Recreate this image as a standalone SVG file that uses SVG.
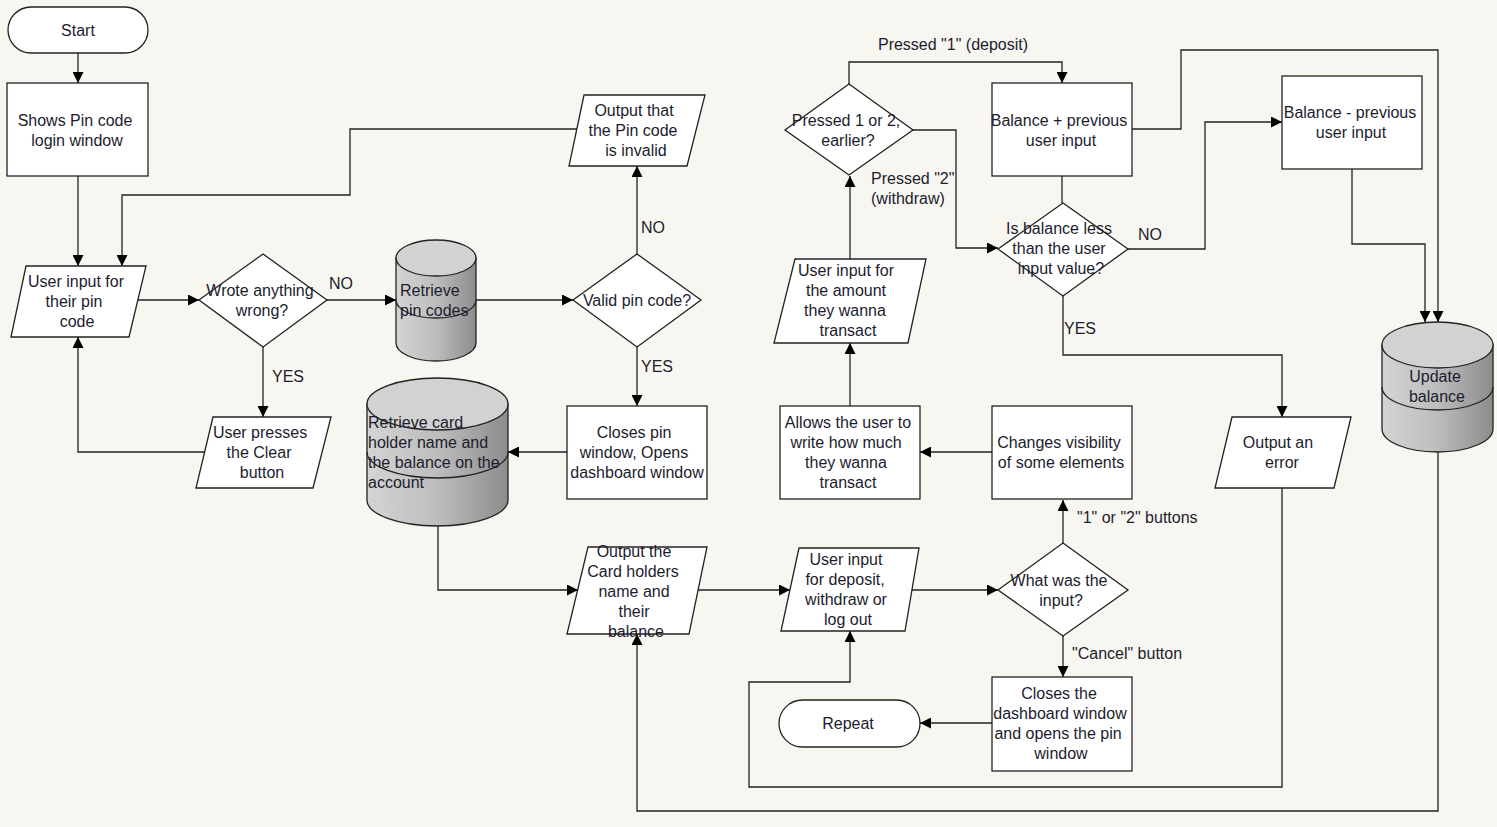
<svg xmlns="http://www.w3.org/2000/svg" width="1497" height="827" viewBox="0 0 1497 827">
<style>
text{font-family:"Liberation Sans",Arial,sans-serif;font-size:16px;fill:#1c1c2e}
.c{text-anchor:middle}
.s{fill:#fff;stroke:#222;stroke-width:1.3}
.cyl{fill:url(#g);stroke:#222;stroke-width:1.3}
.top{fill:#d2d2d2;stroke:#222;stroke-width:1.3}
.arc{fill:none;stroke:#222;stroke-width:1.3}
#connectors path{fill:none;stroke:#222;stroke-width:1.3}
#connectors .a{marker-end:url(#ah)}
</style>
<defs>
<linearGradient id="g" x1="0" y1="0" x2="1" y2="0">
<stop offset="0" stop-color="#d4d4d4"/>
<stop offset="0.5" stop-color="#bdbdbd"/>
<stop offset="1" stop-color="#8c8c8c"/>
</linearGradient>
<marker id="ah" viewBox="0 0 10 10" refX="10" refY="5" markerWidth="11" markerHeight="11" markerUnits="userSpaceOnUse" orient="auto">
<path d="M0,0 L10,5 L0,10 z" fill="#000"/>
</marker>
</defs>
<rect width="1497" height="827" fill="#f8f6f0"/>

<g id="connectors">
<path class="a" d="M78,53 V83"/>
<path class="a" d="M78,176 V266"/>
<path class="a" d="M577,129 H350 V195 H122 V266"/>
<path class="a" d="M138,300 H199"/>
<path class="a" d="M327,300 H396"/>
<path class="a" d="M476,300 H573"/>
<path class="a" d="M637,254 V166"/>
<path class="a" d="M637,347 V406"/>
<path class="a" d="M567,452 H508"/>
<path class="a" d="M263,347 V417"/>
<path class="a" d="M205,452 H78 V337"/>
<path class="a" d="M438,526 V590 H578"/>
<path class="a" d="M698,590 H790"/>
<path class="a" d="M912,590 H998"/>
<path class="a" d="M1063,543 V500"/>
<path class="a" d="M1063,636 V677"/>
<path class="a" d="M992,723 H920"/>
<path class="a" d="M992,452 H920"/>
<path class="a" d="M850,406 V343"/>
<path class="a" d="M850,259 V176"/>
<path class="a" d="M849,84 V62 H1062 V83"/>
<path class="a" d="M913,130 H956 V248 H998"/>
<path d="M1062,176 V203"/>
<path class="a" d="M1128,249 H1205 V122 H1282"/>
<path class="a" d="M1063,296 V355 H1282 V417"/>
<path class="a" d="M1132,129 H1181 V50 H1438 V322"/>
<path class="a" d="M1352,169 V244 H1425 V322"/>
<path class="a" d="M1282,488 V787 H749 V682 H850 V631"/>
<path class="a" d="M1438,452 V811 H637 V634"/>
<text x="329" y="289">NO</text>
<text x="272" y="382">YES</text>
<text x="641" y="233">NO</text>
<text x="641" y="372">YES</text>
<text x="953" y="50" class="c">Pressed "1" (deposit)</text>
<text x="871" y="184">Pressed "2"</text>
<text x="871" y="204">(withdraw)</text>
<text x="1138" y="240">NO</text>
<text x="1064" y="334">YES</text>
<text x="1077" y="523">"1" or "2" buttons</text>
<text x="1072" y="659">"Cancel" button</text>
</g>

<g id="start">
<rect class="s" x="8" y="7" width="140" height="46" rx="23"/>
<text class="c" x="78" y="35.5">Start</text>
</g>

<g id="shows-pin">
<rect class="s" x="7" y="83" width="141" height="93"/>
<text class="c" x="75" y="125.5">Shows Pin code</text>
<text class="c" x="77" y="145.5">login window</text>
</g>

<g id="user-input-pin">
<polygon class="s" points="26,266 146,266 129,337 11,337"/>
<text class="c" x="76" y="286.5">User input for</text>
<text class="c" x="74" y="306.5">their pin</text>
<text class="c" x="77" y="326.5">code</text>
</g>

<g id="wrote-wrong">
<polygon class="s" points="263,254 327,300 263,347 199,300"/>
<text class="c" x="260" y="295.5">Wrote anything</text>
<text class="c" x="262" y="315.5">wrong?</text>
</g>

<g id="clear-button">
<polygon class="s" points="213,417 331,417 313,488 196,488"/>
<text class="c" x="260" y="437.5">User presses</text>
<text class="c" x="259" y="457.5">the Clear</text>
<text class="c" x="262" y="477.5">button</text>
</g>

<g id="retrieve-pins">
<path class="cyl" d="M396,258 V343 A40,18 0 0 0 476,343 V258 Z"/>
<path class="arc" d="M396,300 A40,18 0 0 0 476,300"/>
<ellipse class="top" cx="436" cy="258" rx="40" ry="18"/>
<text x="400" y="295.5">Retrieve</text>
<text x="400" y="315.5">pin codes</text>
</g>

<g id="valid-pin">
<polygon class="s" points="637,254 701,300 637,347 573,300"/>
<text class="c" x="637" y="305.5">Valid pin code?</text>
</g>

<g id="output-invalid">
<polygon class="s" points="584,95 705,95 687,166 569,166"/>
<text class="c" x="634" y="115.5">Output that</text>
<text class="c" x="633" y="135.5">the Pin code</text>
<text class="c" x="636" y="155.5">is invalid</text>
</g>

<g id="closes-pin">
<rect class="s" x="567" y="406" width="140" height="93"/>
<text class="c" x="634" y="437.5">Closes pin</text>
<text class="c" x="634" y="457.5">window, Opens</text>
<text class="c" x="637" y="477.5">dashboard window</text>
</g>

<g id="retrieve-card">
<path class="cyl" d="M367,404 V500 A70.5,26 0 0 0 508,500 V404 Z"/>
<path class="arc" d="M367,452 A70.5,26 0 0 0 508,452"/>
<ellipse class="top" cx="437.5" cy="404" rx="70.5" ry="26"/>
<text x="368" y="427.5">Retrieve card</text>
<text x="368" y="447.5">holder name and</text>
<text x="368" y="467.5">the balance on the</text>
<text x="368" y="487.5">account</text>
</g>

<g id="output-card">
<polygon class="s" points="588,547 707,547 689,634 567,634"/>
<text class="c" x="634" y="556.5">Output the</text>
<text class="c" x="633" y="576.5">Card holders</text>
<text class="c" x="634" y="596.5">name and</text>
<text class="c" x="634" y="616.5">their</text>
<text class="c" x="636" y="636.5">balance</text>
</g>

<g id="user-input-deposit">
<polygon class="s" points="799,548 919,548 905,631 781,631"/>
<text class="c" x="846" y="564.5">User input</text>
<text class="c" x="845" y="584.5">for deposit,</text>
<text class="c" x="846" y="604.5">withdraw or</text>
<text class="c" x="848" y="624.5">log out</text>
</g>

<g id="what-input">
<polygon class="s" points="1063,543 1128,590 1063,636 998,590"/>
<text class="c" x="1059" y="585.5">What was the</text>
<text class="c" x="1061" y="605.5">input?</text>
</g>

<g id="closes-dashboard">
<rect class="s" x="992" y="677" width="140" height="94"/>
<text class="c" x="1059" y="698.5">Closes the</text>
<text class="c" x="1060" y="718.5">dashboard window</text>
<text class="c" x="1058" y="738.5">and opens the pin</text>
<text class="c" x="1061" y="758.5">window</text>
</g>

<g id="repeat">
<rect class="s" x="779" y="700" width="141" height="47" rx="23.5"/>
<text class="c" x="848" y="728.5">Repeat</text>
</g>

<g id="changes-visibility">
<rect class="s" x="992" y="406" width="140" height="93"/>
<text class="c" x="1059" y="447.5">Changes visibility</text>
<text class="c" x="1061" y="467.5">of some elements</text>
</g>

<g id="allows-user">
<rect class="s" x="780" y="406" width="140" height="93"/>
<text class="c" x="848" y="427.5">Allows the user to</text>
<text class="c" x="846" y="447.5">write how much</text>
<text class="c" x="846" y="467.5">they wanna</text>
<text class="c" x="848" y="487.5">transact</text>
</g>

<g id="user-input-amount">
<polygon class="s" points="795,259 926,259 908,343 774,343"/>
<text class="c" x="846" y="275.5">User input for</text>
<text class="c" x="846" y="295.5">the amount</text>
<text class="c" x="845" y="315.5">they wanna</text>
<text class="c" x="848" y="335.5">transact</text>
</g>

<g id="pressed-1-2">
<polygon class="s" points="849,84 913,130 849,175 785,130"/>
<text class="c" x="846" y="125.5">Pressed 1 or 2,</text>
<text class="c" x="848" y="145.5">earlier?</text>
</g>

<g id="balance-plus">
<rect class="s" x="992" y="83" width="140" height="93"/>
<text class="c" x="1059" y="125.5">Balance + previous</text>
<text class="c" x="1061" y="145.5">user input</text>
</g>

<g id="is-balance-less">
<polygon class="s" points="1063,203 1128,249 1063,296 998,249"/>
<text class="c" x="1059" y="233.5">Is balance less</text>
<text class="c" x="1059" y="253.5">than the user</text>
<text class="c" x="1061" y="273.5">input value?</text>
</g>

<g id="balance-minus">
<rect class="s" x="1282" y="76" width="140" height="93"/>
<text class="c" x="1350" y="117.5">Balance - previous</text>
<text class="c" x="1351" y="137.5">user input</text>
</g>

<g id="output-error">
<polygon class="s" points="1232,417 1351,417 1334,488 1215,488"/>
<text class="c" x="1278" y="447.5">Output an</text>
<text class="c" x="1282" y="467.5">error</text>
</g>

<g id="update-balance">
<path class="cyl" d="M1382,345 V429 A55.5,23 0 0 0 1493,429 V345 Z"/>
<path class="arc" d="M1382,387 A55.5,23 0 0 0 1493,387"/>
<ellipse class="top" cx="1437.5" cy="345" rx="55.5" ry="23"/>
<text class="c" x="1435" y="381.5">Update</text>
<text class="c" x="1437" y="401.5">balance</text>
</g>
</svg>
